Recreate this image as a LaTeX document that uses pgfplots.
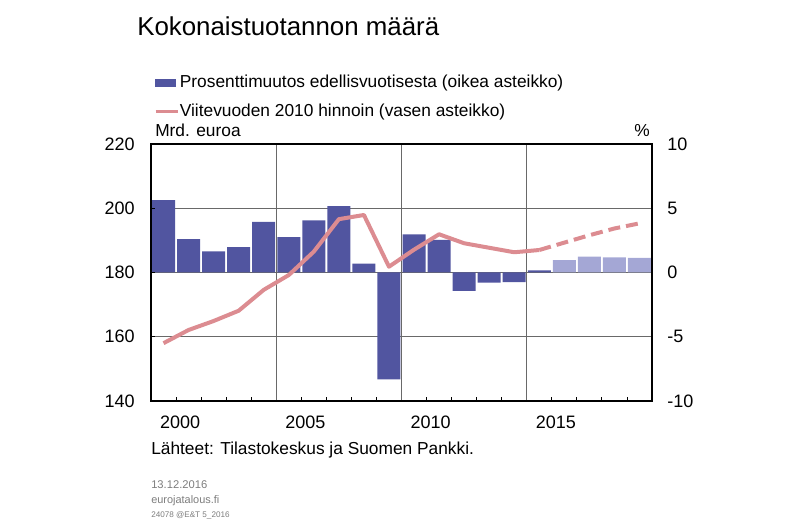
\documentclass[border=0pt]{standalone}
\usepackage{fontspec}
\setmainfont{Liberation Sans}
\usepackage{pgfplots}
\pgfplotsset{compat=1.18}

\definecolor{barblue}{RGB}{81,85,160}
\definecolor{barlight}{RGB}{164,167,213}
\definecolor{linepink}{RGB}{220,140,145}
\definecolor{gridgray}{RGB}{105,105,105}
\definecolor{notegray}{RGB}{125,125,125}

\newcommand{\tickfont}{\fontsize{13.5}{16}\selectfont}
\newcommand{\labfont}{\fontsize{13}{15.6}\selectfont}

\pgfplotsset{
  common/.style={
    width=375.75pt, height=192.75pt, scale only axis,
    xmin=1999.5, xmax=2019.5,
    tick style={black, line width=0.6pt},
    major tick length=3pt,
  },
}

\begin{document}
\begin{tikzpicture}
\useasboundingbox (-113.25pt,-92.25pt) rectangle (486.75pt,300.75pt);

% bars, right scale (%)
\begin{axis}[common,
    ymin=-10, ymax=10,
    ytick={-10,-5,0,5,10},
    yticklabels={-10,-5,0,5,10},
    yticklabel pos=right,
    ytick style={draw=none},
    yticklabel style={font=\tickfont, anchor=west, inner sep=0pt, xshift=11.25pt},
    ymajorgrids,
    grid style={gridgray, line width=0.6pt},
    xtick={2000.5,2001.5,...,2018.5},
    xticklabels={},
    xtick pos=bottom,
    xtick align=inside,
    extra x ticks={2004.5,2009.5,2014.5},
    extra x tick labels={},
    extra x tick style={grid=major, major tick length=0pt},
    axis line style={draw=none},
  ]
  \addplot[ybar, bar width=0.92, bar shift=0pt, fill=barblue, draw=none] coordinates {
    (2000,5.64) (2001,2.60) (2002,1.65) (2003,1.98) (2004,3.93)
    (2005,2.76) (2006,4.06) (2007,5.17) (2008,0.69) (2009,-8.31)
    (2010,2.97) (2011,2.53) (2012,-1.44) (2013,-0.79) (2014,-0.74)
    (2015,0.17)
  };
  \addplot[ybar, bar width=0.92, bar shift=0pt, fill=barlight, draw=none] coordinates {
    (2016,0.97) (2017,1.23) (2018,1.18) (2019,1.13)
  };
\end{axis}

% line, left scale (Mrd. euroa)
\begin{axis}[common,
    ymin=140, ymax=220,
    ytick={140,160,...,220},
    yticklabels={140,160,180,200,220},
    ytick pos=left,
    ytick align=inside,
    yticklabel style={font=\tickfont, anchor=east, inner sep=0pt, xshift=-12pt},
    xtick={2000.66,2005.66,2010.66,2015.66},
    xticklabels={2000,2005,2010,2015},
    xtick style={draw=none},
    xticklabel style={font=\tickfont, anchor=north, inner sep=0pt, yshift=-11.25pt},
    axis line style={black, line width=0.8pt},
    legend style={
      at={(axis description cs:0.006,1.272)}, anchor=north west,
      draw=none, fill=none, inner sep=0pt,
      font=\labfont,
      nodes={inner sep=0pt, text height=9.5pt, text depth=2.5pt},
      row sep=9.75pt,
      /tikz/every odd column/.append style={column sep=0.5pt},
    },
    legend cell align=left,
  ]
  \addlegendimage{legend image code/.code={\fill[barblue] (0pt,-2.6pt) rectangle (15pt,2.6pt);}}
  \addlegendentry{Prosenttimuutos edellisvuotisesta (oikea asteikko)}
  \addlegendimage{legend image code/.code={\draw[linepink, line width=2.2pt] (0pt,0pt) -- (16.5pt,0pt);}}
  \addlegendentry{Viitevuoden 2010 hinnoin (vasen asteikko)}
  \addplot[forget plot, linepink, line width=3pt, line join=round] coordinates {
    (2000,158.0) (2001,162.1) (2002,164.9) (2003,168.1) (2004,174.6)
    (2005,179.2) (2006,186.5) (2007,196.6) (2008,197.9) (2009,181.8)
    (2010,187.1) (2011,191.9) (2012,189.1) (2013,187.7) (2014,186.3)
    (2015,187.0)
  };
  \addplot[forget plot, linepink, line width=3pt, dash pattern=on 9pt off 4.5pt] coordinates {
    (2015,187.0) (2016,189.3) (2017,191.6) (2018,193.7) (2019,195.3)
  };
\end{axis}

\node[anchor=base west, inner sep=0pt, font=\fontsize{19.4}{23}\selectfont] at (-10.5pt,273.75pt) {Kokonaistuotannon määrä};
\node[anchor=base west, inner sep=0pt, font=\labfont] at (3pt,198pt) {Mrd. euroa};
\node[anchor=base east, inner sep=0pt, font=\labfont] at (374.25pt,198pt) {\%};
\node[anchor=base west, inner sep=0pt, font=\labfont] at (0pt,-40.5pt) {Lähteet: Tilastokeskus ja Suomen Pankki.};
\node[anchor=base west, inner sep=0pt, text=notegray, font=\fontsize{8.4}{10}\selectfont] at (0pt,-66pt) {13.12.2016};
\node[anchor=base west, inner sep=0pt, text=notegray, font=\fontsize{8.2}{10}\selectfont] at (0pt,-76.7pt) {eurojatalous.fi};
\node[anchor=base west, inner sep=0pt, text=notegray, font=\fontsize{6.1}{7}\selectfont] at (0pt,-87.5pt) {24078 @E\&T 5\_2016};
\end{tikzpicture}
\end{document}
